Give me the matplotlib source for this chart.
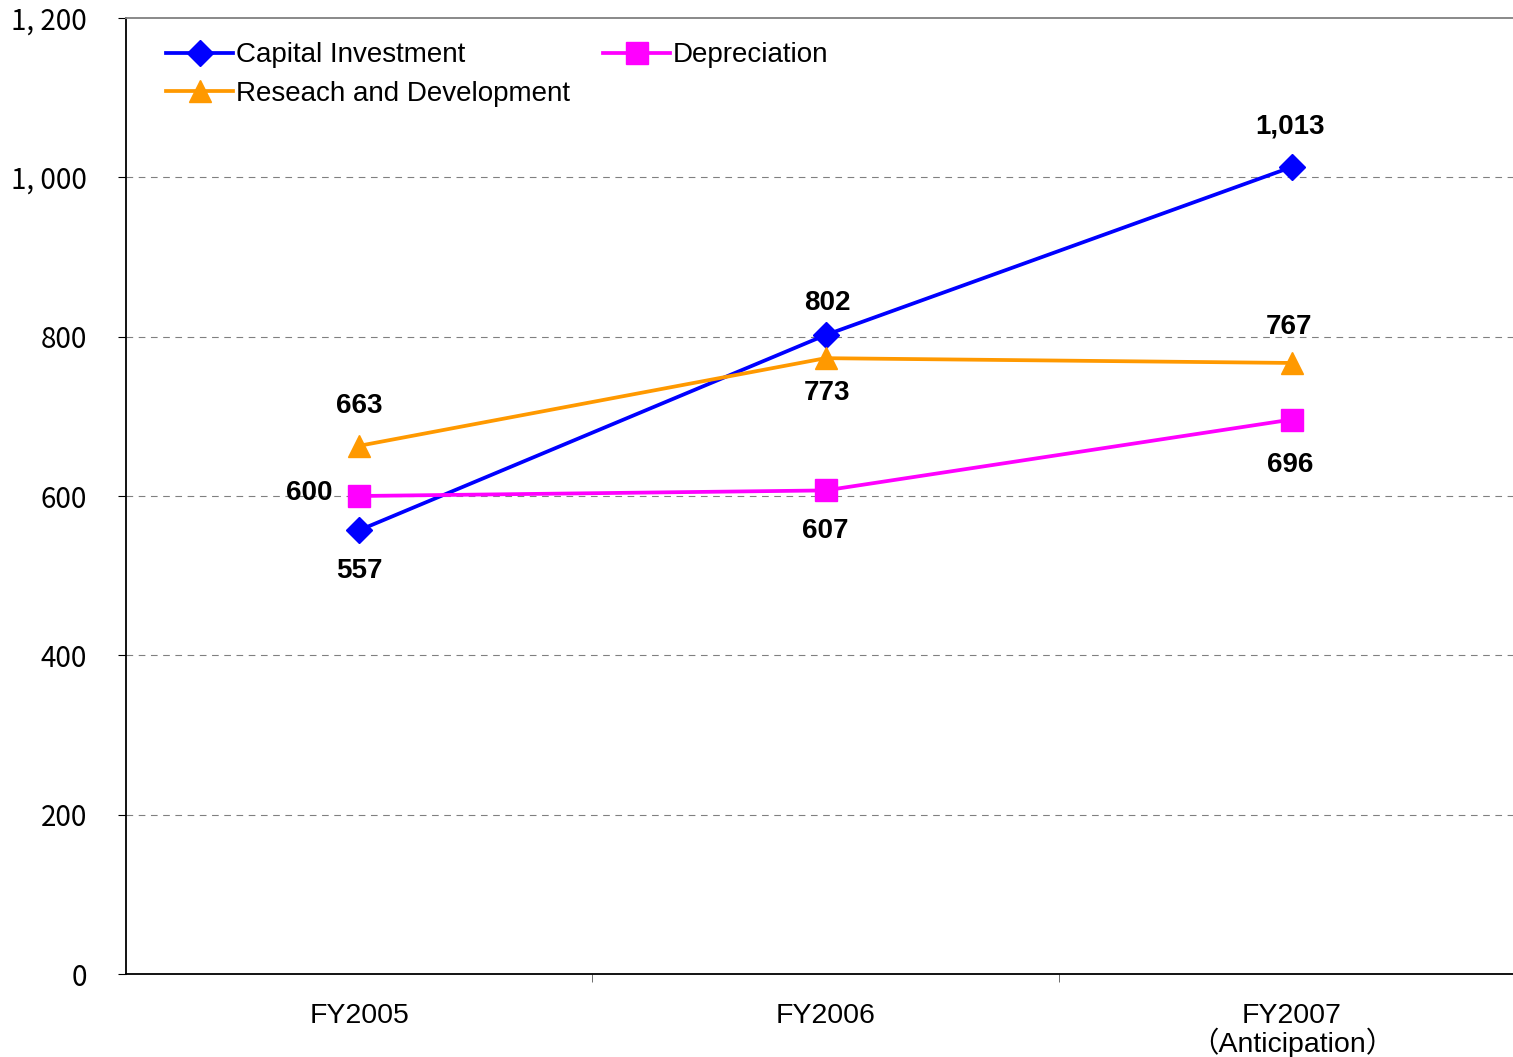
import matplotlib
matplotlib.use("Agg")
import matplotlib.pyplot as plt

categories = ["FY2005", "FY2006", "FY2007\n（Anticipation）"]
capital_investment = [557, 802, 1013]
depreciation = [600, 607, 696]
research_dev = [663, 773, 767]
y_ticks = [0, 200, 400, 600, 800, 1000, 1200]
y_tick_labels = ["0", "200", "400", "600", "800", "1, 000", "1, 200"]

W, H = 1513, 1057
fig = plt.figure(figsize=(W / 100, H / 100), dpi=100)
left, right, top, bottom = 126, 1525, 18, 974
ax = fig.add_axes([left / W, (H - bottom) / H, (right - left) / W, (bottom - top) / H])

x = list(range(len(categories)))
h_ci, = ax.plot(x, capital_investment, color="#0000FF", lw=2.7, marker="D", ms=13,
                label="Capital Investment", zorder=4)
h_dep, = ax.plot(x, depreciation, color="#FF00FF", lw=2.7, marker="s", ms=16,
                 label="Depreciation", zorder=4)
h_rd, = ax.plot(x, research_dev, color="#FF9900", lw=2.7, marker="^", ms=16,
                label="Reseach and Development", zorder=4)

ax.set_xlim(-0.5, 2.5)
ax.set_ylim(0, 1200)
ax.set_yticks(y_ticks)
ax.set_yticklabels(y_tick_labels, fontfamily=["Noto Sans CJK JP", "DejaVu Sans"], fontsize=20)
ax.set_xticks(x)
ax.set_xticklabels(categories, fontfamily=["Liberation Sans", "Noto Sans CJK JP"], fontsize=20.5,
                   linespacing=0.95)
ax.tick_params(axis="x", length=0, pad=21)
ax.set_xticks([0.5, 1.5], minor=True)
ax.tick_params(axis="x", which="minor", length=6, direction="out", color="#555555")
ax.tick_params(axis="y", length=6, direction="out", pad=22, color="black")

for yv in [200, 400, 600, 800, 1000]:
    ax.axhline(yv, color="#808080", lw=0.8, ls=(0, (6, 5)), zorder=1)

ax.spines["left"].set_color("black")
ax.spines["left"].set_linewidth(1.3)
ax.spines["bottom"].set_color("black")
ax.spines["bottom"].set_linewidth(1.3)
ax.spines["top"].set_color("#808080")
ax.spines["top"].set_linewidth(1.3)
ax.spines["right"].set_visible(False)

bold = dict(fontsize=20, fontweight="bold", fontfamily="Liberation Sans", color="black")
def lab(i, v, dx, dy, ha="center"):
    ax.annotate(f"{v:,}", (x[i], v), xytext=(dx, dy), textcoords="offset points",
                ha=ha, va="center", **bold)

lab(0, capital_investment[0], 0, -29)
lab(0, depreciation[0], -19, 2, ha="right")
lab(0, research_dev[0], 0, 29)
lab(1, capital_investment[1], 1, 23)
lab(1, research_dev[1], 1, -25)
lab(1, depreciation[1], 0, -29)
lab(2, capital_investment[2], -1, 29)
lab(2, research_dev[2], -2, 26)
lab(2, depreciation[2], -1, -33)

leg = ax.legend(handles=[h_ci, h_rd, h_dep], ncol=2, loc="upper left",
                bbox_to_anchor=(0.021, 0.986), frameon=False,
                prop={"family": "Liberation Sans", "size": 20}, handlelength=2.4,
                handletextpad=0.1, columnspacing=1.2, labelspacing=0.45, borderaxespad=0)

fig.savefig("out.png", dpi=100)
